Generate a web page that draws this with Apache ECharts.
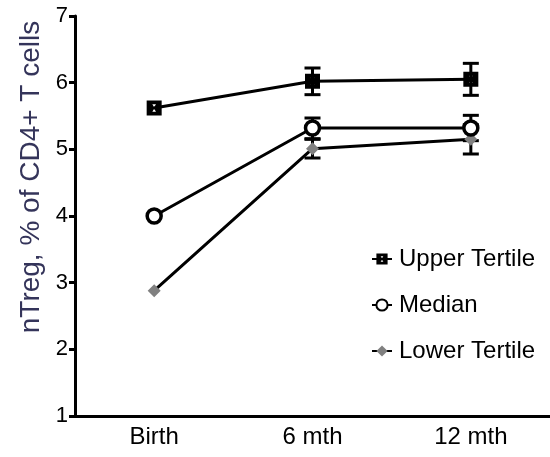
<!DOCTYPE html>
<html>
<head>
<meta charset="utf-8">
<script src="https://cdn.jsdelivr.net/npm/echarts@6/dist/echarts.min.js"></script>
<style>html,body{margin:0;padding:0;background:#fff}#c{width:550px;height:457px}</style>
</head>
<body>
<div id="c"></div>
<script>
var categories = ['Birth', '6 mth', '12 mth'];
var yTicks = [1, 2, 3, 4, 5, 6, 7];
var upper = [5.62, 6.02, 6.05];
var median = [4.0, 5.32, 5.32];
var lower = [2.88, 5.01, 5.15];
var upperErrLow = [null, 5.82, 5.81];
var upperErrHigh = [null, 6.22, 6.29];
var medianErrLow = [null, 5.16, 5.13];
var medianErrHigh = [null, 5.47, 5.51];
var lowerErrLow = [null, 4.87, 4.93];
var lowerErrHigh = [null, 5.15, 5.37];
var seriesNames = ['Upper Tertile', 'Median', 'Lower Tertile'];
var yTitle = 'nTreg, % of CD4+ T cells';

var FONT = 'Liberation Sans, Arial, sans-serif';
var squareSym = 'path://M0 0 L14 0 L14 14 L0 14 Z M5.3 3.6 L7 6.2 L8.7 3.6 Z M7 7.8 L5.3 10.4 L8.7 10.4 Z';

function errData(lo, hi) {
  var d = [];
  for (var i = 0; i < lo.length; i++) {
    if (lo[i] != null) d.push([i, lo[i], hi[i]]);
  }
  return d;
}
function errRender(params, api) {
  var x = api.value(0);
  var lo = api.coord([x, api.value(1)]);
  var hi = api.coord([x, api.value(2)]);
  var hw = 8;
  var st = {stroke: '#000', lineWidth: 3};
  return {type: 'group', children: [
    {type: 'line', shape: {x1: lo[0], y1: lo[1], x2: hi[0], y2: hi[1]}, style: st},
    {type: 'line', shape: {x1: lo[0] - hw, y1: lo[1], x2: lo[0] + hw, y2: lo[1]}, style: st},
    {type: 'line', shape: {x1: hi[0] - hw, y1: hi[1], x2: hi[0] + hw, y2: hi[1]}, style: st}
  ]};
}

var chart = echarts.init(document.getElementById('c'), null, {renderer: 'canvas'});
chart.setOption({
  animation: false,
  backgroundColor: '#fff',
  grid: {left: 75, top: 16, width: 480, height: 400, containLabel: false},
  xAxis: {
    type: 'category', data: categories, boundaryGap: true,
    axisLine: {lineStyle: {color: '#000', width: 3}},
    axisTick: {alignWithLabel: true, length: 6, lineStyle: {color: '#000', width: 3}},
    axisLabel: {color: '#000', fontSize: 24, fontFamily: FONT, margin: 9},
    splitLine: {show: false}
  },
  yAxis: {
    type: 'value', min: yTicks[0], max: yTicks[yTicks.length - 1], interval: 1,
    axisLine: {show: true, lineStyle: {color: '#000', width: 3}},
    axisTick: {show: true, length: 6, lineStyle: {color: '#000', width: 3}},
    axisLabel: {color: '#000', fontSize: 22, fontFamily: FONT, margin: 7},
    splitLine: {show: false}
  },
  legend: {
    orient: 'vertical', left: 366, top: 242, itemWidth: 20, itemHeight: 14, itemGap: 22,
    textStyle: {fontSize: 24, fontFamily: FONT, color: '#000', padding: [0, 0, 0, 2]},
    data: seriesNames
  },
  graphic: [{
    type: 'text', x: 31, y: 177, rotation: Math.PI / 2,
    style: {text: yTitle, fontSize: 28, fontFamily: FONT, fill: '#34345a', align: 'center', verticalAlign: 'middle'}
  }],
  series: [
    {type: 'custom', renderItem: errRender, data: errData(upperErrLow, upperErrHigh), z: 1, encode: {x: 0, y: [1, 2]}},
    {type: 'custom', renderItem: errRender, data: errData(medianErrLow, medianErrHigh), z: 1, encode: {x: 0, y: [1, 2]}},
    {type: 'custom', renderItem: errRender, data: errData(lowerErrLow, lowerErrHigh), z: 1, encode: {x: 0, y: [1, 2]}},
    {name: seriesNames[2], type: 'line', data: lower, z: 3, symbol: 'diamond', symbolSize: 13,
      itemStyle: {color: '#808080', borderWidth: 0}, lineStyle: {color: '#000', width: 3}},
    {name: seriesNames[1], type: 'line', data: median, z: 4, symbol: 'circle', symbolSize: 14,
      itemStyle: {color: '#fff', borderColor: '#000', borderWidth: 3.5}, lineStyle: {color: '#000', width: 3}},
    {name: seriesNames[0], type: 'line', data: upper, z: 5, symbol: squareSym, symbolSize: 15,
      itemStyle: {color: '#000', borderWidth: 0}, lineStyle: {color: '#000', width: 3}}
  ]
});
</script>
</body>
</html>
